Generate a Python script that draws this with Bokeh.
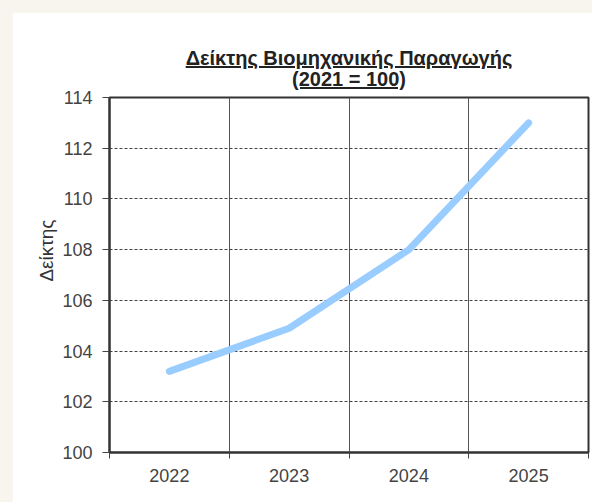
from bokeh.plotting import figure
from bokeh.models import Range1d, FixedTicker, Div, Title
from bokeh.layouts import column
from bokeh.embed import file_html
from bokeh.resources import INLINE

# ---- data ----
years = ["2022", "2023", "2024", "2025"]
index_values = [103.2, 104.9, 108.0, 113.0]
y_ticks = [100, 102, 104, 106, 108, 110, 112, 114]
title_lines = ["Δείκτης Βιομηχανικής Παραγωγής", "(2021 = 100)"]
y_label = "Δείκτης"

FONT = "Liberation Sans"
n = len(years)
centers = [i + 0.5 for i in range(n)]
bounds = list(range(n + 1))

# ---- title block (underlined, two lines) ----
title_html = (
    '<div style="margin-left:96px;width:480px;padding-top:35px;text-align:center;white-space:nowrap;'
    "font-family:'Liberation Sans';font-weight:bold;font-size:20px;line-height:21px;"
    'color:#222222;text-decoration:underline;">'
    + title_lines[0] + "<br>" + title_lines[1] + "</div>"
)
title_div = Div(text=title_html, width=579, height=60, margin=0,
                styles={"overflow": "visible"})

p = figure(width=579, height=429,
           x_range=Range1d(0, n), y_range=Range1d(y_ticks[0], y_ticks[-1]),
           output_backend="svg", toolbar_location=None,
           min_border_left=96, min_border_right=4, min_border_top=24, min_border_bottom=50,
           background_fill_color="white", border_fill_color="white", border_fill_alpha=0,
           margin=0)

p.outline_line_color = "#333333"
p.outline_line_width = 2

# x axis: labels at band centers, tick marks at band boundaries
xa = p.xaxis[0]
xa.ticker = FixedTicker(ticks=centers, minor_ticks=bounds)
xa.major_label_overrides = {c: y for c, y in zip(centers, years)}
xa.major_tick_line_color = None
xa.major_tick_out = 0
xa.major_tick_in = 0
xa.minor_tick_out = 6
xa.minor_tick_in = 0
xa.minor_tick_line_color = "#444444"
xa.axis_line_color = "#333333"
xa.axis_line_width = 2
xa.major_label_standoff = 10
xa.major_label_text_font = FONT
xa.major_label_text_font_size = "18px"
xa.major_label_text_color = "#444444"

ya = p.yaxis[0]
ya.ticker = FixedTicker(ticks=y_ticks)
ya.major_tick_out = 7
ya.major_tick_in = 0
ya.major_tick_line_color = "#444444"
ya.minor_tick_line_color = None
ya.axis_line_color = "#333333"
ya.axis_line_width = 2
ya.major_label_standoff = 10
ya.major_label_text_font = FONT
ya.major_label_text_font_size = "18px"
ya.major_label_text_color = "#444444"

# y title as a side title, anchored from the top of the frame
p.add_layout(Title(text=y_label, align="right", offset=122, standoff=5,
                   text_font=FONT, text_font_style="normal", text_font_size="19px",
                   text_color="#333333"), "left")

p.xgrid.ticker = FixedTicker(ticks=bounds[1:-1])
p.xgrid.grid_line_color = "#555555"
p.xgrid.grid_line_width = 1
p.ygrid.ticker = FixedTicker(ticks=y_ticks[1:-1])
p.ygrid.grid_line_color = "#444444"
p.ygrid.grid_line_dash = "3 2"
p.ygrid.grid_line_width = 1

p.line(x=centers, y=index_values, line_color="#99CCFF", line_width=7, line_cap="round", line_join="round")

layout = column(title_div, p, spacing=0,
                styles={"margin-left": "13px", "margin-top": "13px",
                        "background-color": "white", "box-shadow": "0 0 0 13px #f8f5ee"})

open("out.html", "w").write(file_html(layout, INLINE))
